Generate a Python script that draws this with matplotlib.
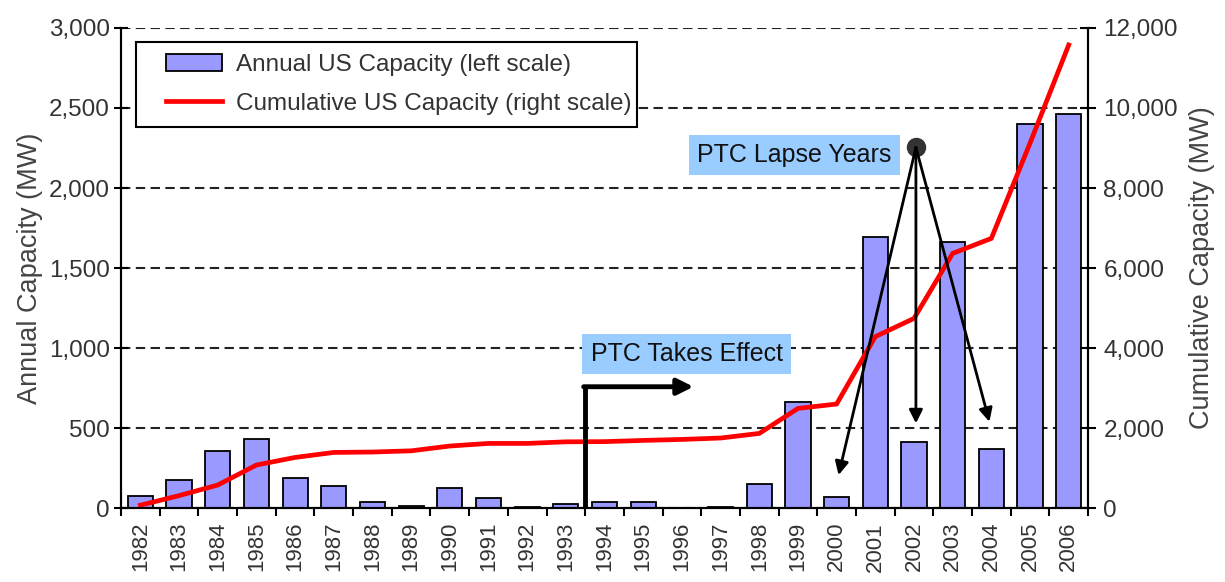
import matplotlib
matplotlib.use('Agg')

import matplotlib.pyplot as plt
from matplotlib.patches import Rectangle
from matplotlib.ticker import FixedLocator

plt.rcParams['font.family'] = ['Liberation Sans', 'DejaVu Sans']

years = [str(y) for y in range(1982, 2007)]
annual_mw = [75, 175, 355, 430, 190, 135, 35, 10, 125, 60, 5, 25, 35,
             35, 0, 5, 150, 665, 70, 1695, 410, 1665, 370, 2400, 2460]
cumulative_mw = [70, 310, 575, 1075, 1265, 1390, 1400, 1430, 1550, 1615, 1615, 1655, 1660,
                 1690, 1715, 1750, 1865, 2490, 2600, 4285, 4740, 6365, 6740, 9120, 11575]
left_ticks = [0, 500, 1000, 1500, 2000, 2500, 3000]
right_ticks = [0, 2000, 4000, 6000, 8000, 10000, 12000]
lapse_years = ['2000', '2002', '2004']
ptc_year = '1994'

x = list(range(len(years)))

fig = plt.figure(figsize=(12.25, 5.82), dpi=100)
ax = fig.add_axes([0.0988, 0.1271, 0.7894, 0.8248])
ax2 = ax.twinx()

bars = ax.bar(x, annual_mw, width=0.65, color='#9999FF', edgecolor='black', linewidth=1.3,
              label='Annual US Capacity (left scale)')
line, = ax2.plot(x, cumulative_mw, color='#FF0000', linewidth=3.4, solid_joinstyle='miter',
                 label='Cumulative US Capacity (right scale)')

ax.set_xlim(-0.5, len(years) - 0.5)
ax.set_ylim(0, 3000)
ax2.set_ylim(0, 12000)

ax.set_axisbelow(True)
ax.yaxis.grid(True, linestyle=(0, (4.5, 2.6)), color='#222222', linewidth=1.5)

ax.set_xticks(x)
ax.set_xticklabels(years, rotation=90, fontsize=16, color='#333333')
ax.xaxis.set_minor_locator(FixedLocator([i - 0.5 for i in range(len(years) + 1)]))
ax.tick_params(axis='x', which='major', length=0, pad=10)
ax.tick_params(axis='x', which='minor', length=6, width=1.5, direction='out')

ax.set_yticks(left_ticks)
ax.set_yticklabels([f'{v:,}' for v in left_ticks], fontsize=17.5, color='#333333')
ax.tick_params(axis='y', length=10, width=1.5, direction='inout', pad=3)
ax2.set_yticks(right_ticks)
ax2.set_yticklabels([f'{v:,}' for v in right_ticks], fontsize=17.5, color='#333333')
ax2.tick_params(axis='y', length=12, width=1.5, direction='inout', pad=5)

ax.set_ylabel('Annual Capacity (MW)', fontsize=19.5, color='#444444', labelpad=4)
ax2.set_ylabel('Cumulative Capacity (MW)', fontsize=19.5, color='#444444', labelpad=8)

for a in (ax, ax2):
    a.spines['top'].set_visible(False)
    for s in ('left', 'right', 'bottom'):
        a.spines[s].set_linewidth(1.5)
        a.spines[s].set_color('black')

# PTC takes effect bent arrow
px = years.index(ptc_year) - 0.5
ax2.plot([px, px], [0, 758], color='black', linewidth=3.5, solid_capstyle='projecting',
         transform=ax.transData)
ax2.annotate('', xy=(px + 2.8, 758), xytext=(px - 0.04, 758),
             xycoords=ax.transData, textcoords=ax.transData,
             arrowprops=dict(arrowstyle='-|>', color='black', lw=3.5, mutation_scale=24,
                             shrinkA=0, shrinkB=0))
ax2.text(px + 2.62, 963, 'PTC Takes Effect', transform=ax.transData, fontsize=18,
         ha='center', va='center', color='#111111',
         bbox=dict(boxstyle='square,pad=0.33', facecolor='#99CCFF', edgecolor='none'))

# PTC lapse years
hub = (years.index('2002') + 0.05, 2254)
tips = [206, 529, 539]
offs = [0.05, 0.05, -0.05]
for yr, ty, o in zip(lapse_years, tips, offs):
    ax2.annotate('', xy=(years.index(yr) + o, ty), xytext=hub,
                 xycoords=ax.transData, textcoords=ax.transData,
                 arrowprops=dict(arrowstyle='-|>', color='black', lw=2, mutation_scale=20,
                                 shrinkA=0, shrinkB=0))
ax2.plot([hub[0]], [hub[1]], marker='o', markersize=13, color='#333333',
         transform=ax.transData)
ax2.text(16.91, 2206, 'PTC Lapse Years', transform=ax.transData, fontsize=18,
         ha='center', va='center', color='#111111',
         bbox=dict(boxstyle='square,pad=0.33', facecolor='#99CCFF', edgecolor='none'))

# legend with a wider frame drawn by hand
ax2.add_patch(Rectangle((0.0152, 0.794), 0.518, 0.176, transform=ax2.transAxes,
                        facecolor='white', edgecolor='black', linewidth=1.5, zorder=4))
leg = ax2.legend([bars, line], [bars.get_label(), line.get_label()],
                 loc='upper left', bbox_to_anchor=(0.047, 0.946), fontsize=17.5,
                 frameon=False, handlelength=2.3, borderpad=0, labelspacing=0.7,
                 handletextpad=0.55, borderaxespad=0)
leg.set_zorder(5)
for t in leg.get_texts():
    t.set_color('#333333')

fig.savefig('out.png', dpi=100)
